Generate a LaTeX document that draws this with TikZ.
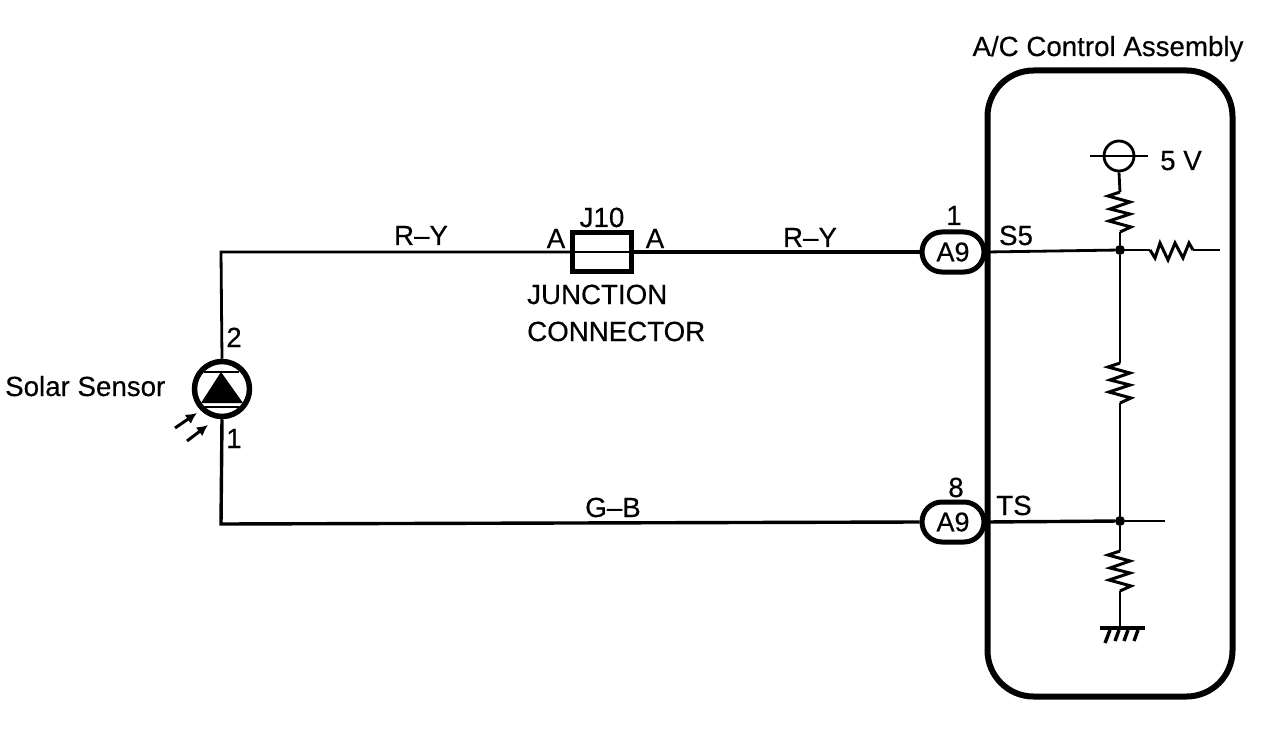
\documentclass[tikz,border=0pt]{standalone}
\usepackage{fontspec}
\usetikzlibrary{arrows.meta}
\setmainfont{Liberation Sans}[FakeBold=0.35]
\tikzset{
  lbl/.style={anchor=base,inner sep=0pt,font=\fontsize{27.7}{30}\selectfont},
  lblleft/.style={lbl,anchor=base west},
  pill/.style={draw,line width=5pt,rounded corners=20pt,minimum width=62pt,minimum height=40pt,inner sep=0pt,font=\fontsize{27}{29}\selectfont},
  wire/.style={line width=2.8pt},
  heavy/.style={line width=4pt},
  thinwire/.style={line width=2.2pt},
  dotnode/.style={circle,fill,inner sep=0pt,minimum size=10pt},
  vres/.pic={\draw[line width=3pt,line join=miter]
     (0,-20)--(-12,-16)--(10,-10)--(-10,-3)--(10,2)--(-11,9)--(11,15)--(0,20);},
  hres/.pic={\draw[line width=3pt]
     (-22,0)--(-17,8)--(-12,-7)--(-4,10)--(3,-7)--(11,8)--(17,-7)--(21,0);}
}
\begin{document}
\begin{tikzpicture}[x=1pt,y=-1pt]
\useasboundingbox[fill=white] (0,0) rectangle (1280,730);
% sensor
\node[circle,draw,line width=5.5pt,minimum size=55pt,inner sep=0pt] (sensor) at (222,389) {};
\fill (221,372) -- (243,403) -- (201,403) -- cycle;
\draw[line width=2.6pt] (204,372) -- (239,372);
\draw[line width=2pt] (204,407) -- (239,407);
\coordinate (a1s) at (175,428); \coordinate (a1e) at (197,413);
\coordinate (a2s) at (187,441); \coordinate (a2e) at (208,425);
\draw[line width=3pt,-{Latex[length=11pt,width=11pt]}] (a1s) -- (a1e);
\draw[line width=3pt,-{Latex[length=11pt,width=11pt]}] (a2s) -- (a2e);
% junction and assembly
\node[draw,line width=4.5pt,minimum width=59pt,minimum height=39pt,inner sep=0pt] (jbox) at (602,252) {};
\node[draw,line width=6pt,rounded corners=46pt,minimum width=245pt,minimum height=626pt,inner sep=0pt] (assy) at (1110,383.5) {};
\node[pill] (pa) at (953,252) {A9};
\node[pill] (pb) at (953,522) {A9};
% corners
\coordinate (tl) at (221,252);
\coordinate (bl) at (221,524);
\coordinate (s5end) at (1220,250);
\coordinate (tsend) at (1165,521);
\node[dotnode] (d1) at (1120,250) {};
\node[dotnode] (d2) at (1120,521) {};
\coordinate (r0) at (1120,212);
\coordinate (r0t) at (1120,192); \coordinate (r0b) at (1120,232);
\coordinate (r1) at (1120,383);
\coordinate (r1t) at (1120,363); \coordinate (r1b) at (1120,403);
\coordinate (r2) at (1120,571);
\coordinate (r2t) at (1120,551); \coordinate (r2b) at (1120,591);
\coordinate (r3) at (1172,250);
\coordinate (r3l) at (1150,250); \coordinate (r3r) at (1193,250);
\node[circle,draw,line width=2.8pt,minimum size=30pt,inner sep=0pt] (vs) at (1119,156) {};
\coordinate (vl) at (1090,156); \coordinate (vr) at (1148,156);
\coordinate (gnd) at (1120,627);
% wires
\draw[wire] (sensor.north) -- (tl) -- (jbox.west);
\draw[line width=3.4pt] (sensor.south) -- (bl) -- (pb.west);
\draw[heavy] (jbox.east) -- (pa.west);
\draw[line width=1.5pt] (jbox.west) -- (jbox.east);
\draw[wire] (pa.east) -- (d1);
\draw[wire] (d1) -- (r3l);
\draw[wire] (r3r) -- (s5end);
\draw[line width=3.4pt] (pb.east) -- (d2);
\draw[wire] (d2) -- (tsend);
\draw[thinwire] (vl) -- (vr);
\draw[wire] (vs.south) -- (r0t);
\draw[wire] (r0b) -- (d1);
\draw[wire] (d1) -- (r1t);
\draw[wire] (r1b) -- (d2);
\draw[wire] (d2) -- (r2t);
\draw[wire] (r2b) -- (gnd);
\pic at (r0) {vres};
\pic at (r1) {vres};
\pic at (r2) {vres};
\pic at (r3) {hres};
% ground
\draw[line width=4pt] (1100,628) -- (1145,628);
\draw[line width=3.4pt] (1110,630) -- (1105,643);
\draw[line width=3.4pt] (1119,630) -- (1115,641);
\draw[line width=3.4pt] (1128,630) -- (1124,641);
\draw[line width=3.4pt] (1138,630) -- (1134,641);
% labels
\node[lbl] (t0) at (1108,56) {A/C Control Assembly};
\node[lbl] (t1) at (1181,170) {5 V};
\node[lbl] (t2) at (421,245) {R–Y};
\node[lbl] (t3) at (810,247) {R–Y};
\node[lbl] (t4) at (613,517) {G–B};
\node[lbl] (t5) at (556,248) {A};
\node[lbl] (t6) at (655,248) {A};
\node[lbl] (t7) at (602,227) {J10};
\node[lblleft] (t8) at (527,304) {JUNCTION};
\node[lblleft] (t9) at (527,341) {CONNECTOR};
\node[lbl] (t10) at (234,347) {2};
\node[lbl] (t11) at (234,448) {1};
\node[lblleft] (t12) at (5,396) {Solar Sensor};
\node[lbl] (t13) at (954,225) {1};
\node[lbl] (t14) at (956,497) {8};
\node[lbl] (t15) at (1016,245) {S5};
\node[lbl] (t16) at (1014,515) {TS};
\end{tikzpicture}
\end{document}
